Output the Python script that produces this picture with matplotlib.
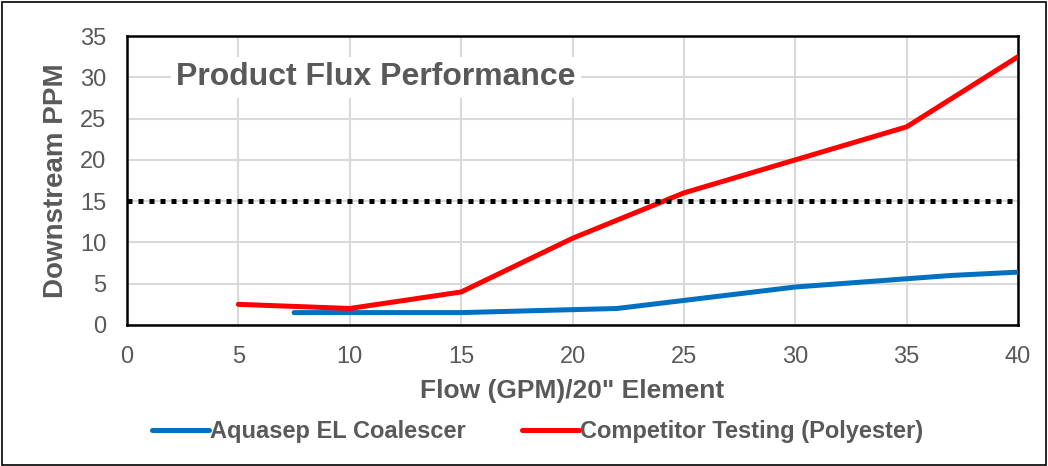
import matplotlib.pyplot as plt
from matplotlib.patches import Rectangle

plt.rcParams['font.family'] = ['Liberation Sans', 'DejaVu Sans']

# Aquasep EL Coalescer
aquasep_flow = [7.5, 10, 15, 22, 30, 37, 40]
aquasep_ppm = [1.5, 1.5, 1.5, 2.0, 4.6, 6.0, 6.4]

# Competitor Testing (Polyester)
comp_flow = [5, 10, 15, 20, 25, 30, 35, 40]
comp_ppm = [2.5, 2.0, 4.0, 10.5, 16.0, 20.0, 24.0, 32.5]

limit_flow = [0, 40]
limit_ppm = [15, 15]

gray = '#595959'

fig = plt.figure(figsize=(10.48, 4.66), dpi=100)
ax = fig.add_axes([0.1212, 0.3026, 0.8502, 0.6201])

ax.plot(aquasep_flow, aquasep_ppm, color='#0070c0', lw=3.6, solid_capstyle='round',
        label='Aquasep EL Coalescer', zorder=3)
ax.plot(comp_flow, comp_ppm, color='#ff0000', lw=3.6, solid_capstyle='round',
        label='Competitor Testing (Polyester)', zorder=3)
ax.plot(limit_flow, limit_ppm, color='black', lw=3.6, linestyle=(0, (1, 1.2)), zorder=3)

ax.set_xlim(0, 40)
ax.set_ylim(0, 35)
ax.set_xticks(range(0, 41, 5))
ax.set_yticks(range(0, 36, 5))
ax.grid(True, color='#d9d9d9', lw=1.5)
ax.set_axisbelow(True)
for s in ax.spines.values():
    s.set_color('black')
    s.set_linewidth(1.8)
ax.tick_params(length=0, labelsize=17, labelcolor=gray, pad=15)

ax.set_xlabel('Flow (GPM)/20" Element', fontsize=19, fontweight='bold', color=gray, labelpad=8)
ax.set_ylabel('Downstream PPM', fontsize=20, fontweight='bold', color=gray, labelpad=8)

ax.text(2.2, 30, 'Product Flux Performance', fontsize=23, fontweight='bold', color=gray,
        va='center', ha='left', zorder=4,
        bbox=dict(facecolor='white', edgecolor='none', pad=4))

leg = ax.legend(loc='center', bbox_to_anchor=(0.461, -0.37), ncol=2, frameon=False,
                prop={'size': 17, 'weight': 'bold'}, handlelength=2.4, handletextpad=0.05,
                columnspacing=2.4)
for t in leg.get_texts():
    t.set_color(gray)

fig.patches.append(Rectangle((0.002, 0.002), 0.996, 0.994, transform=fig.transFigure,
                             fill=False, edgecolor='black', lw=1.2))

fig.savefig('out.png', dpi=100)
